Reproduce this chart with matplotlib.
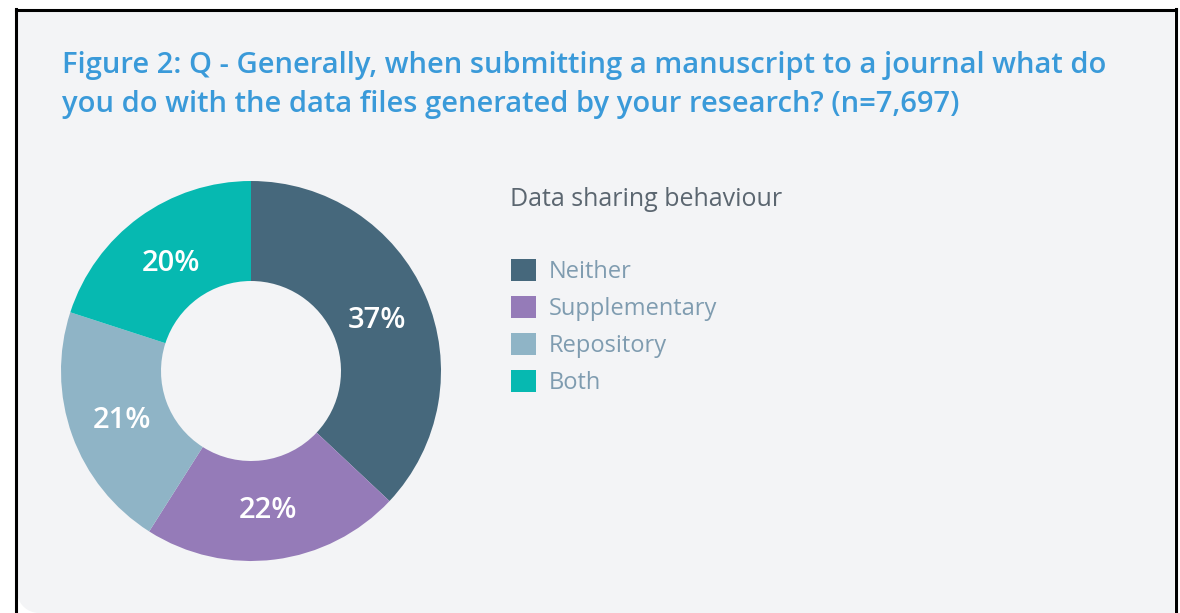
import matplotlib
matplotlib.use("Agg")
import matplotlib.pyplot as plt
from matplotlib.patches import Rectangle, Circle
from matplotlib.lines import Line2D

categories = ["Neither", "Supplementary", "Repository", "Both"]
shares = [37, 22, 21, 20]
colors = ["#46687C", "#957BB8", "#8FB4C6", "#06B9B1"]
title = ("Figure 2: Q - Generally, when submitting a manuscript to a journal what do\n"
         "you do with the data files generated by your research? (n=7,697)")
legend_title = "Data sharing behaviour"

W, H = 1180, 613
fig = plt.figure(figsize=(W / 100, H / 100), dpi=100, facecolor="white")
plt.rcParams['font.family'] = ['Open Sans', 'DejaVu Sans']

def fx(x):
    return x / W

def fy(y):
    return 1 - y / H

bg = "#F3F4F6"
# panel
fig.add_artist(Rectangle((fx(17), 0), fx(1174 - 17), fy(11), transform=fig.transFigure,
                         facecolor=bg, edgecolor="none", zorder=0))
# rounded bottom-left corner
fig.add_artist(Rectangle((fx(17), 0), fx(22), 22 / H, transform=fig.transFigure,
                         facecolor="white", edgecolor="none", zorder=0.1))
ax_c = fig.add_axes([fx(17), 0, fx(60), 60 / H])
ax_c.set_xlim(0, 60); ax_c.set_ylim(0, 60); ax_c.axis("off")
ax_c.set_zorder(0.2)
ax_c.add_patch(Circle((22, 22), 22, facecolor=bg, edgecolor="none"))
ax_c.add_patch(Rectangle((22, 0), 40, 60, facecolor=bg, edgecolor="none"))
ax_c.add_patch(Rectangle((0, 22), 60, 40, facecolor=bg, edgecolor="none"))
# black frame
lw = 2.2
fig.add_artist(Line2D([fx(15.5), fx(15.5)], [0, fy(9)], transform=fig.transFigure, color="black", lw=lw, zorder=5))
fig.add_artist(Line2D([fx(1175.5), fx(1175.5)], [0, fy(9)], transform=fig.transFigure, color="black", lw=lw, zorder=5))
fig.add_artist(Line2D([fx(15.5), fx(1175.5)], [fy(9.5), fy(9.5)], transform=fig.transFigure, color="black", lw=lw, zorder=5))

# title
fig.text(fx(62), fy(85), title, color="#3A9AD9", fontsize=21, fontweight="semibold",
         va="center", ha="left", linespacing=1.42)

# donut
cx, cy, R = 251, 371, 190
half = 200
ax = fig.add_axes([fx(cx - half), fy(cy + half), fx(2 * half), 2 * half / H])
ax.set_zorder(1)
wedges, texts, autotexts = ax.pie(shares, colors=colors, startangle=90, counterclock=False,
                                  radius=1.0, wedgeprops=dict(width=100 / 190, edgecolor="none"),
                                  autopct=lambda p: f"{p:.0f}%", pctdistance=0.72)
lim = half / R
ax.set_xlim(-lim, lim); ax.set_ylim(-lim, lim)
ax.set_aspect("equal")
ax.axis("off")
for t in autotexts:
    t.set_color("white")
    t.set_fontsize(21)
    t.set_fontweight("semibold")
    t.set_va("center_baseline")

# legend
fig.text(fx(510), fy(200), legend_title, color="#5B6670", fontsize=18, va="center", ha="left")
leg = fig.legend(wedges, categories, loc="upper left", bbox_to_anchor=(fx(502), fy(250)),
                 frameon=False, fontsize=17, handlelength=1.05, handleheight=1.05,
                 handletextpad=0.55, labelspacing=0.5, borderaxespad=0)
for t in leg.get_texts():
    t.set_color("#7F9CB0")

fig.savefig("out.png", dpi=100, facecolor="white")
